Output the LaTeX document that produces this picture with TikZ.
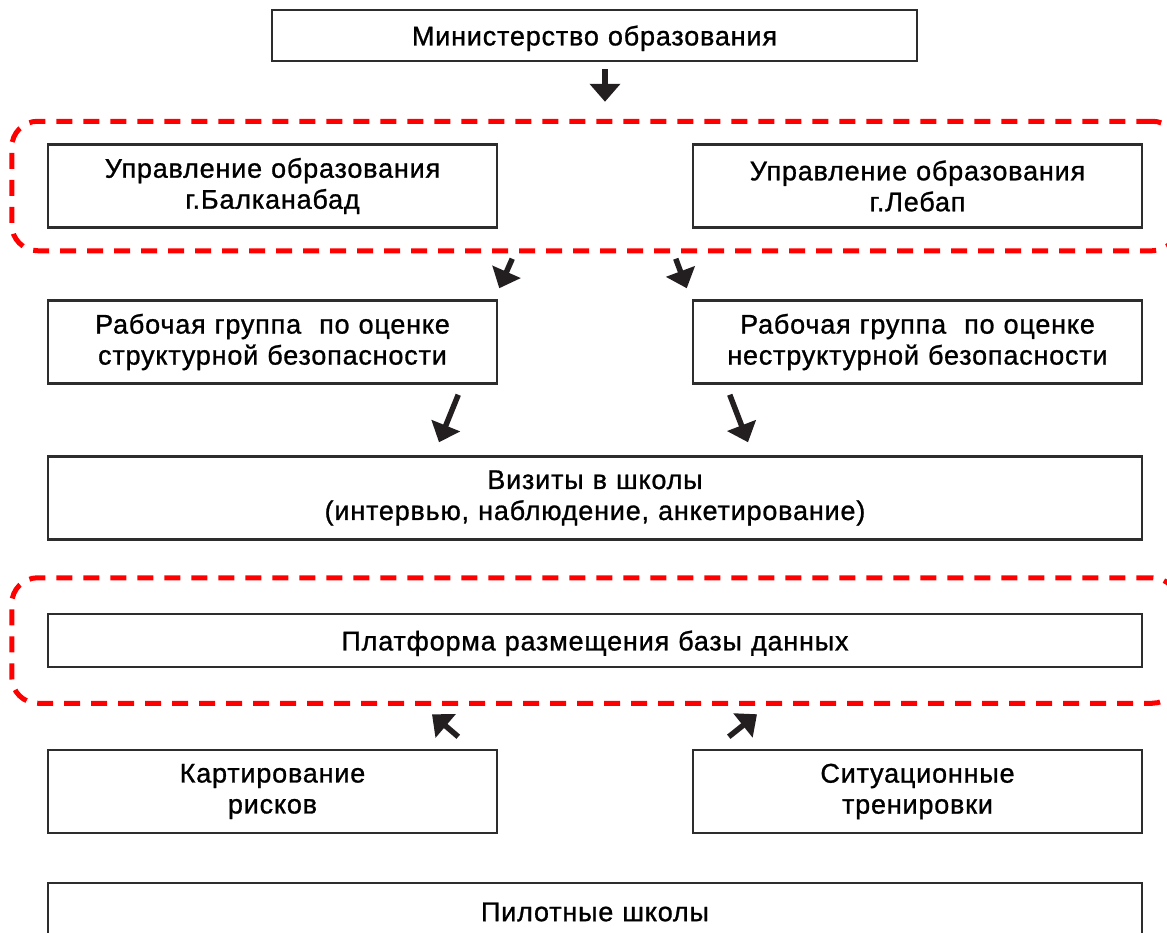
\documentclass[tikz,border=0pt]{standalone}
\usepackage{fontspec}
\setmainfont[LetterSpace=3,FakeBold=1]{Liberation Sans}
\usetikzlibrary{arrows.meta,positioning,fit}

\definecolor{framered}{RGB}{255,0,0}
\definecolor{boxgray}{RGB}{45,45,45}
\definecolor{arrowgray}{RGB}{35,31,32}

\tikzstyle{unit} = [rectangle, minimum width=449pt, minimum height=83pt,
                    text width=440pt,
                    align=center,
                    inner sep=0pt,
                    fill=white,
                    draw=boxgray,
                    line width=2.5pt,
                    text=black,
                    font=\fontsize{27}{31}\selectfont]
\tikzstyle{wide} = [unit, minimum width=1094pt, text width=1080pt]
\tikzstyle{oneline} = [text depth=0pt]
\tikzstyle{frame} = [rectangle, rounded corners=26pt,
                     draw=framered,
                     line width=5pt,
                     dash pattern=on 16pt off 11pt]
\tikzstyle{flow} = [line width=5.5pt, draw=arrowgray,
                    -{Triangle[length=18pt,width=30pt]}]

\begin{document}
\begin{tikzpicture}[node distance=156pt]

  \useasboundingbox (0,0) rectangle (1167pt,-932pt);

  \node (ministry) [wide, oneline, minimum width=645pt, text width=630pt,
                    minimum height=51pt] at (594.5pt,-35.5pt) {
    Министерство образования
  };

  \node (balkan) [unit, below of=ministry, xshift=-322pt, yshift=5.5pt] {
    Управление образования\\
    г.Балканабад
  };

  \node (lebap) [unit, right of=balkan, xshift=489pt] {
    Управление образования\\
    г.Лебап
  };

  \node (frame-a) [frame, fit=(balkan)(lebap), inner xsep=35pt, inner ysep=22pt] {};

  \node (struct) [unit, below of=balkan] {
    Рабочая группа\ \ по оценке\\
    структурной безопасности
  };

  \node (nonstruct) [unit, below of=lebap] {
    Рабочая группа\ \ по оценке\\
    неструктурной безопасности
  };

  \node (visits) [wide, below of=struct, xshift=322.5pt] {
    Визиты в школы\\
    (интервью, наблюдение, анкетирование)
  };

  \node (platform) [wide, oneline, below of=visits, yshift=13.5pt, minimum height=53pt] {
    Платформа размещения базы данных
  };

  \node (frame-b) [frame, fit=(platform), inner xsep=35pt, inner ysep=35pt] {};

  \node (mapping) [unit, below of=platform, xshift=-322.5pt, yshift=5pt] {
    Картирование\\
    рисков
  };

  \node (drills) [unit, right of=mapping, xshift=489pt] {
    Ситуационные\\
    тренировки
  };

  \node (pilot) [wide, below of=mapping, xshift=322.5pt, yshift=35.5pt,
                 minimum height=58pt] {
    Пилотные школы
  };

  \draw[flow] ([xshift=10.5pt,yshift=-7pt]ministry.south) to ([xshift=10pt,yshift=17pt]frame-a.north);

  \draw[flow] ([xshift=14pt,yshift=-30pt]balkan.south east) to ([xshift=1pt,yshift=11pt]struct.north east);
  \draw[flow] ([xshift=-16pt,yshift=-30pt]lebap.south west) to ([xshift=-5pt,yshift=11pt]nonstruct.north west);

  \draw[flow] ([xshift=-40pt,yshift=-10pt]struct.south east) to ([xshift=-156pt,yshift=13pt]visits.north);
  \draw[flow] ([xshift=38pt,yshift=-10pt]nonstruct.south west) to ([xshift=153pt,yshift=13pt]visits.north);

  \draw[flow] ([xshift=-40pt,yshift=12pt]mapping.north east) to ([xshift=-163pt,yshift=-8.5pt]frame-b.south);
  \draw[flow] ([xshift=37pt,yshift=12pt]drills.north west) to ([xshift=162pt,yshift=-8.5pt]frame-b.south);

\end{tikzpicture}
\end{document}
